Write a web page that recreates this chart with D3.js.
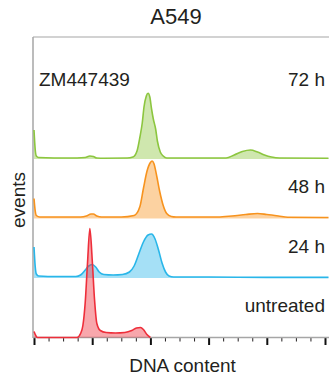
<!DOCTYPE html>
<html>
<head>
<meta charset="utf-8">
<script src="https://cdn.jsdelivr.net/npm/d3@7"></script>
<style>
  body { margin: 0; background: #fff; }
  text { font-family: "Liberation Sans", Arial, sans-serif; fill: #231f20; }
</style>
</head>
<body>
<div id="my_dataviz"></div>
<script>
// DNA content histograms, [channel, events]
const untreated = [[0,6],[2,1],[3,0],[37,0],[40,4],[42,12],[44,35],[46,75],[48,109],[50,78],[52,38],[54,14],[57,7],[62,5],[70,4.5],[78,5],[84,7],[88,9.5],[91.5,10],[94,8],[97,3],[100,0]];
const h24 = [[0,31],[1,12],[2,4],[4,2],[20,1.5],[36,1.5],[40,3],[44,8],[47,12],[50,13.5],[53,11],[56,6],[60,3.5],[68,3],[76,3.5],[82,6],[86,12],[90,24],[94,36],[98,43],[101,44],[104,39],[107,28],[110,15],[113,6],[116,2],[120,1],[150,1],[200,0.6],[253,0.6]];
const h48 = [[0,20],[1,8],[2,3],[5,1.5],[40,1.5],[45,2.5],[49,4.5],[51,4.5],[54,2.5],[58,1.5],[75,1.5],[86,3],[91,12],[94,30],[97,47],[100,56],[101.5,57.5],[103,55],[105.5,42],[108,27],[111,13],[114,5],[118,2],[122,1.5],[158,1.5],[170,2.5],[182,4],[192,5],[200,4],[210,2.5],[218,1.2],[253,1]];
const h72 = [[0,29],[1,10],[2,3],[4,1.5],[30,1],[44,1.5],[48,3],[51,2.5],[54,1],[60,0.8],[80,1],[85,2],[88.5,8],[91,22],[93,36],[94.5,52],[96.5,63],[98,65.7],[99.5,62],[101,50],[102.5,40],[104.5,30],[106,18],[108.5,7],[111,3],[114,1],[165,1],[172,4],[179,7.5],[186,9],[192,7],[198,4],[204,2],[211,1],[253,0.8]];

const samples = ["untreated", "24 h", "48 h", "72 h"];
const series = [untreated, h24, h48, h72];
const colors = ["#ee2e3a", "#29b6e9", "#f7931e", "#8cc63f"];
const majorTicks = [0, 50, 100, 150, 200, 250];
const minorTicks = d3.range(0, 250, 12.5).filter(v => v % 50 !== 0);

const width = 329, height = 382;

const svg = d3.select("#my_dataviz")
    .append("svg")
    .attr("width", width)
    .attr("height", height);

const x = d3.scaleLinear().domain([0, 250]).range([34, 325]);
// baseline of each stacked panel
const panel = d3.scaleLinear().domain([0, 3]).range([337.5, 159]);
const y = d3.scaleLinear().domain([0, 100]).range([0, -100]);

// frame: top and left lines
svg.append("line").attr("x1", 33).attr("x2", 329).attr("y1", 37).attr("y2", 37)
    .attr("stroke", "#a6a6a6").attr("stroke-width", 1.2);
svg.append("line").attr("x1", 33).attr("x2", 33).attr("y1", 37).attr("y2", 338)
    .attr("stroke", "#a6a6a6").attr("stroke-width", 1.5);

// x axis, minor and major ticks
const axisY = panel(0);
svg.append("g")
    .attr("transform", `translate(0,${axisY})`)
    .call(d3.axisBottom(x).tickValues(minorTicks).tickSize(4).tickFormat(""))
    .call(g => g.select(".domain").remove())
    .call(g => g.selectAll(".tick line").attr("stroke", "#231f20").attr("stroke-width", 1));
svg.append("g")
    .attr("transform", `translate(0,${axisY})`)
    .call(d3.axisBottom(x).tickValues(majorTicks).tickSize(7.5).tickFormat(""))
    .call(g => g.select(".domain").remove())
    .call(g => g.selectAll(".tick line").attr("stroke", "#111").attr("stroke-width", 2));
svg.append("line").attr("x1", 33).attr("x2", 329).attr("y1", axisY).attr("y2", axisY)
    .attr("stroke", "#a6a6a6").attr("stroke-width", 1.4);

const area = d3.area()
    .x(d => x(d[0]))
    .y0(y(0))
    .y1(d => y(d[1]))
    .curve(d3.curveMonotoneX);
const line = d3.line()
    .x(d => x(d[0]))
    .y(d => y(d[1]))
    .curve(d3.curveMonotoneX);

// draw top panel first so untreated sits on top
for (let i = series.length - 1; i >= 0; i--) {
    const g = svg.append("g").attr("transform", `translate(0,${panel(i)})`);
    g.append("path").datum(series[i])
        .attr("d", area)
        .attr("fill", colors[i])
        .attr("fill-opacity", 0.42);
    g.append("path").datum(series[i])
        .attr("d", line)
        .attr("fill", "none")
        .attr("stroke", colors[i])
        .attr("stroke-width", 1.6);
}

// sample labels
samples.forEach(function (s, i) {
    svg.append("text")
        .attr("x", 325)
        .attr("y", i === 3 ? 86 : panel(i) - 25.5)
        .attr("text-anchor", "end")
        .style("font-size", "19px")
        .text(s);
});

svg.append("text").attr("x", 39).attr("y", 86)
    .style("font-size", "19px").text("ZM447439");

svg.append("text").attr("x", 176).attr("y", 24)
    .attr("text-anchor", "middle")
    .style("font-size", "22px").text("A549");

svg.append("text").attr("x", 182.5).attr("y", 371.5)
    .attr("text-anchor", "middle")
    .style("font-size", "19px").text("DNA content");

svg.append("text")
    .attr("transform", "translate(25,200) rotate(-90)")
    .attr("text-anchor", "middle")
    .style("font-size", "19px").text("events");
</script>
</body>
</html>
